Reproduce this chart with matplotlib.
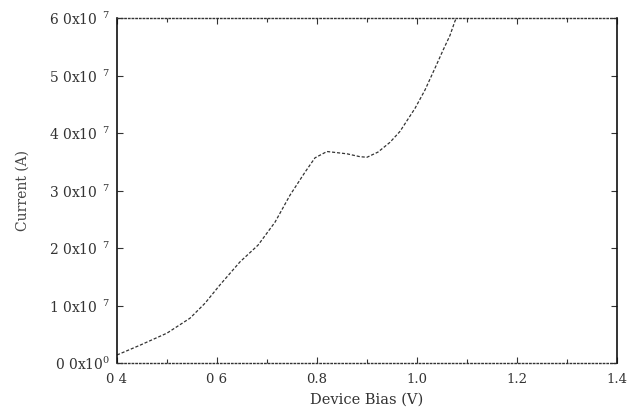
import matplotlib
matplotlib.use("Agg")
import matplotlib.pyplot as plt
from matplotlib.ticker import MultipleLocator

plt.rcParams['font.family'] = ['DejaVu Serif']
plt.rcParams['mathtext.fontset'] = 'dejavuserif'

# Device bias (V) vs current (A)
bias = [0.400, 0.446, 0.500, 0.546, 0.576, 0.606, 0.646, 0.682, 0.716, 0.746,
        0.776, 0.796, 0.820, 0.860, 0.886, 0.900, 0.922, 0.946, 0.966, 0.996,
        1.016, 1.036, 1.052, 1.066, 1.076, 1.085]
current = [0.14, 0.31, 0.52, 0.78, 1.04, 1.36, 1.76, 2.05, 2.45, 2.92,
           3.32, 3.57, 3.68, 3.64, 3.59, 3.58, 3.67, 3.84, 4.03, 4.43,
           4.75, 5.13, 5.44, 5.70, 5.95, 6.10]
current = [c * 1e-7 for c in current]

x_ticks = [0.4, 0.6, 0.8, 1.0, 1.2, 1.4]
x_labels = ['0 4', '0 6', '0.8', '1.0', '1.2', '1.4']
y_ticks = [0, 1e-7, 2e-7, 3e-7, 4e-7, 5e-7, 6e-7]
y_labels = [r'0 0x10$^{0}$'] + [r'%d 0x10$^{\ \ 7}$' % i for i in range(1, 7)]

fig = plt.figure(figsize=(6.27, 4.13), dpi=100)
ax = fig.add_axes([0.1866, 0.121, 0.7974, 0.835])

ax.plot(bias, current, color='#333333', lw=0.9, linestyle=(0, (2.5, 1.5)))

ax.set_xlim(0.4, 1.4)
ax.set_ylim(0, 6e-7)
ax.set_xticks(x_ticks)
ax.set_xticklabels(x_labels)
ax.xaxis.set_minor_locator(MultipleLocator(0.1))
ax.set_yticks(y_ticks)
ax.set_yticklabels(y_labels)

ax.tick_params(which='both', direction='in', top=True, right=True,
               colors='#333333', labelsize=9.5, width=0.8)
ax.tick_params(which='major', length=4)
ax.tick_params(which='minor', length=3)
ax.tick_params(axis='x', pad=7)
ax.tick_params(axis='y', pad=5, labelsize=10)

for side in ['left', 'right']:
    ax.spines[side].set_linewidth(1.2)
    ax.spines[side].set_color('#111111')
for side in ['top', 'bottom']:
    ax.spines[side].set_linestyle(':')
    ax.spines[side].set_linewidth(1.0)
    ax.spines[side].set_color('#333333')

ax.set_xlabel('Device Bias (V)', fontsize=10.5, color='#333333', labelpad=5)
ax.set_ylabel('Current (A)', fontsize=10, color='#444444', labelpad=14)

fig.savefig('out.png', dpi=100)
